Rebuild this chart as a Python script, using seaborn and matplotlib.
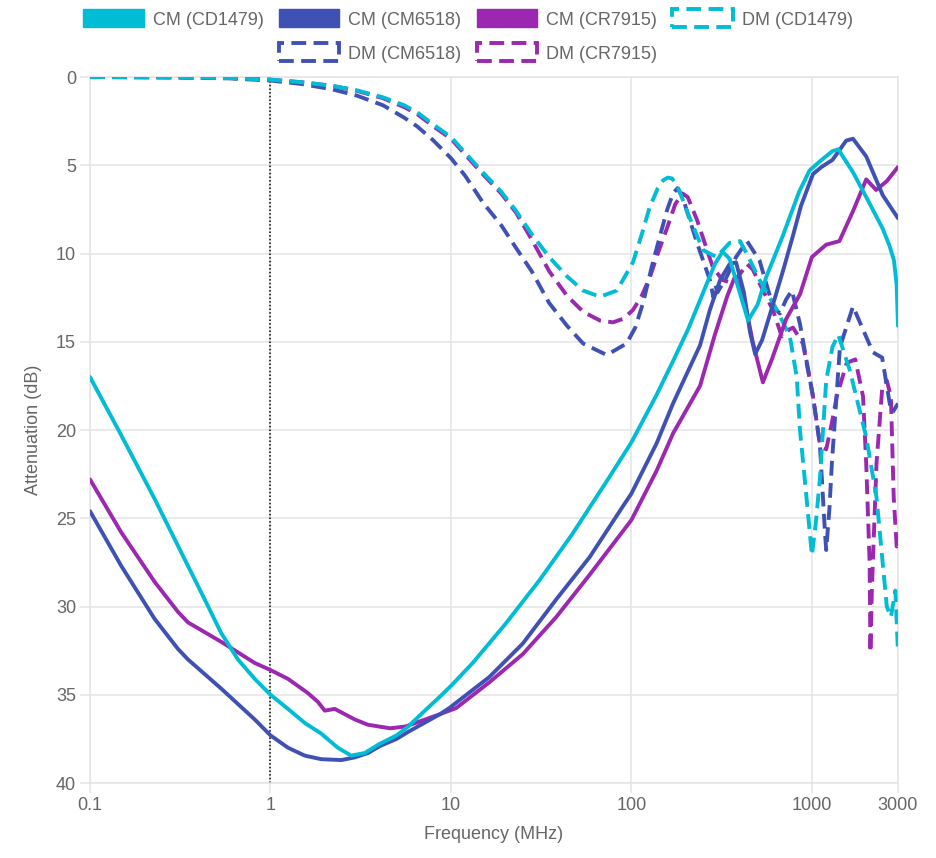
import matplotlib
matplotlib.use('Agg')
import matplotlib.pyplot as plt
from matplotlib.patches import Patch
from matplotlib.ticker import NullLocator
import seaborn as sns
import pandas as pd

# Data (frequency in MHz, attenuation in dB)
cm_cd1479_freq = [0.1, 0.149, 0.228, 0.349, 0.432, 0.533, 0.66, 0.818, 1.0, 1.25, 1.55, 1.91, 2.36, 2.8, 3.33,
                  4.0, 5.0, 5.8, 7.0, 8.7, 10, 13.2, 20, 31, 47, 73, 100, 138, 170, 206, 250, 290, 320, 350, 390,
                  443, 500, 560, 690, 850, 970, 1100, 1300, 1400, 1690, 2000, 2470, 2700, 2850, 2950, 3000]
cm_cd1479_db = [17.0, 20.3, 23.9, 27.7, 29.6, 31.5, 33.0, 34.1, 35.0, 35.8, 36.6, 37.2, 38.0, 38.45, 38.3,
                37.8, 37.3, 36.8, 36.0, 35.1, 34.5, 33.2, 31.0, 28.5, 25.9, 22.9, 20.7, 18.0, 16.1, 14.3, 12.2, 10.6, 9.9, 10.3, 11.9,
                13.8, 12.9, 11.3, 9.0, 6.5, 5.3, 4.8, 4.2, 4.1, 5.4, 6.8, 8.6, 9.6, 10.4, 11.8, 14.1]

cm_cm6518_freq = [0.1, 0.149, 0.228, 0.307, 0.349, 0.533, 0.818, 1.0, 1.25, 1.55, 1.91, 2.47, 2.93, 3.47, 4.05,
                  5.0, 5.8, 8.7, 9.8, 16.3, 25, 38.3, 58.7, 90, 100, 138, 170, 203, 240, 272, 310, 350, 380, 420,
                  455, 485, 530, 608, 700, 785, 870, 1014, 1130, 1300, 1550, 1690, 2000, 2470, 3000]
cm_cm6518_db = [24.6, 27.7, 30.7, 32.4, 33.0, 34.65, 36.4, 37.3, 38.0, 38.45, 38.65, 38.7, 38.55, 38.3, 37.9,
                37.5, 37.1, 36.1, 35.75, 34.0, 32.1, 29.6, 27.2, 24.3, 23.6, 20.75, 18.5, 16.8, 15.2, 13.2, 11.5, 10.6, 10.5, 12.2,
                14.5, 15.7, 14.9, 12.9, 10.8, 9.0, 7.3, 5.5, 5.1, 4.7, 3.6, 3.5, 4.5, 6.7, 8.0]

cm_cr7915_freq = [0.1, 0.149, 0.228, 0.307, 0.349, 0.533, 0.818, 1.0, 1.25, 1.61, 1.83, 2.0, 2.27, 2.93, 3.47,
                  4.6, 5.6, 8.7, 10.7, 16.3, 25, 38.3, 58.7, 100, 138, 170, 240, 290, 340, 375, 420, 470, 535,
                  600, 721, 860, 1000, 1200, 1420, 1690, 2000, 2270, 2600, 3000]
cm_cr7915_db = [22.8, 25.8, 28.6, 30.3, 30.9, 32.0, 33.2, 33.6, 34.1, 34.9, 35.4, 35.9, 35.8, 36.4, 36.7,
                36.9, 36.8, 36.1, 35.75, 34.3, 32.7, 30.6, 28.2, 25.1, 22.3, 20.2, 17.5, 14.6, 12.4, 11.3, 12.5, 15.0, 17.3,
                16.0, 13.7, 12.3, 10.2, 9.5, 9.3, 7.6, 5.8, 6.4, 5.9, 5.1]

dm_cd1479_freq = [0.1, 0.3, 0.6, 1.0, 1.5, 2.2, 3.0, 4.2, 5.5, 6.5, 8, 10, 12, 15, 19, 23, 28, 35, 44, 54, 67, 83,
                  102, 115, 126, 140, 150, 159, 168, 180, 190, 203, 249, 296, 350, 400, 445, 513, 640, 755, 824,
                  859, 933, 1000, 1050, 1107, 1200, 1300, 1400, 1620, 2000, 2280, 2600, 2740, 2900, 3000]
dm_cd1479_db = [0.0, 0.02, 0.06, 0.15, 0.3, 0.5, 0.75, 1.15, 1.6, 2.0, 2.7, 3.4, 4.3, 5.4, 6.5, 7.6, 8.9, 10.2, 11.3, 12.1, 12.45, 12.1,
                10.5, 8.8, 7.4, 6.3, 5.85, 5.7, 5.75, 6.2, 6.8, 7.6, 9.8, 10.2, 9.4, 9.3, 10.2, 11.5, 13.2, 14.7, 17.0,
                20.0, 23.8, 27.1, 25.3, 22.8, 17.2, 15.3, 14.6, 16.6, 20.4, 23.8, 30.0, 30.6, 29.1, 32.6]

dm_cm6518_freq = [0.1, 0.3, 0.6, 1.0, 1.5, 2.2, 3.0, 4.2, 5.5, 6.5, 8, 10, 12, 15, 19, 23, 28, 35, 44, 54, 73, 94,
                  105, 116, 130, 144, 158, 170, 180, 192, 231, 272, 285, 292, 300, 338, 380, 437, 513, 608, 665,
                  720, 775, 859, 1014, 1107, 1180, 1200, 1250, 1290, 1430, 1690, 1900, 2180, 2450, 2700, 2800, 3000]
dm_cm6518_db = [0.0, 0.03, 0.08, 0.2, 0.4, 0.7, 1.05, 1.6, 2.3, 2.8, 3.6, 4.6, 5.6, 7.1, 8.4, 9.7, 11.0, 12.8, 14.1, 15.1, 15.75, 15.1,
                14.2, 12.8, 10.7, 9.0, 7.5, 6.6, 6.3, 6.8, 9.4, 11.5, 12.5, 11.8, 12.2, 11.3, 10.2, 9.3, 10.4, 13.0, 13.4,
                12.6, 12.1, 14.0, 18.1, 20.8, 25.7, 26.8, 24.5, 21.9, 15.3, 13.0, 14.2, 15.6, 15.9, 18.5, 19.0, 18.5]

dm_cr7915_freq = [0.1, 0.3, 0.6, 1.0, 1.5, 2.2, 3.0, 4.2, 5.5, 6.5, 8, 10, 12, 15, 19, 23, 28, 35, 44, 54, 67, 79,
                  90, 102, 114, 126, 140, 157, 175, 192, 205, 231, 283, 320, 366, 410, 437, 470, 513, 608, 681,
                  750, 786, 892, 1014, 1107, 1200, 1290, 1373, 1560, 1740, 1920, 2000, 2090, 2110, 2150, 2280,
                  2450, 2600, 2740, 2840, 2950, 3000]
dm_cr7915_db = [0.0, 0.02, 0.06, 0.15, 0.3, 0.5, 0.78, 1.2, 1.7, 2.1, 2.8, 3.5, 4.4, 5.5, 6.6, 7.7, 9.2, 11.0, 12.4, 13.3, 13.8, 13.9,
                13.7, 13.2, 12.4, 11.4, 10.0, 8.6, 7.2, 6.6, 6.8, 8.1, 10.8, 11.5, 11.7, 11.0, 10.6, 10.9, 11.7, 13.2, 14.7,
                14.3, 14.2, 15.1, 18.1, 20.8, 21.1, 19.6, 18.1, 16.2, 16.0, 18.1, 21.9, 27.6, 32.6, 29.0, 21.9,
                17.7, 17.2, 18.1, 23.8, 26.6, 26.5]

series_names = ['CM (CD1479)', 'CM (CM6518)', 'CM (CR7915)', 'DM (CD1479)', 'DM (CM6518)', 'DM (CR7915)']
series_data = [(cm_cd1479_freq, cm_cd1479_db), (cm_cm6518_freq, cm_cm6518_db), (cm_cr7915_freq, cm_cr7915_db),
               (dm_cd1479_freq, dm_cd1479_db), (dm_cm6518_freq, dm_cm6518_db), (dm_cr7915_freq, dm_cr7915_db)]

x_ticks = [0.1, 1, 10, 100, 1000, 3000]
x_tick_labels = ['0.1', '1', '10', '100', '1000', '3000']
y_ticks = [0, 5, 10, 15, 20, 25, 30, 35, 40]

colors = {'CD1479': '#00BCD4', 'CM6518': '#3F51B5', 'CR7915': '#9C27B0'}
palette = {n: colors[n[4:-1]] for n in series_names}
dash_pat = (3.8, 1.9)

sns.set_theme(style='white')
plt.rcParams['font.family'] = ['Liberation Sans', 'DejaVu Sans']
text_col = '#666666'
grid_col = '#e4e4e4'

fig, ax = plt.subplots(figsize=(9.36, 8.58), dpi=100)
fig.subplots_adjust(left=90/936, right=898/936, top=1-77/858, bottom=1-783/858)

# first series ends up on top, like the original chart
for i, (name, (fr, db)) in enumerate(zip(series_names, series_data)):
    d = pd.DataFrame({'freq': fr, 'atten': db})
    ls = '-' if name.startswith('CM') else (0, dash_pat)
    sns.lineplot(data=d, x='freq', y='atten', color=palette[name], linestyle=ls, linewidth=2.8,
                 estimator=None, sort=False, ax=ax, zorder=10 - i)

ax.axvline(1, color='black', linestyle=(0, (1, 1.4)), linewidth=1.1, zorder=2)

ax.set_xscale('log')
ax.set_xlim(0.1, 3000)
ax.set_ylim(40, 0)
ax.set_xticks(x_ticks)
ax.set_xticklabels(x_tick_labels)
ax.xaxis.set_minor_locator(NullLocator())
ax.set_yticks(y_ticks)
ax.set_yticklabels([str(v) for v in y_ticks])
ax.grid(True, color=grid_col, linewidth=1.1)
for s in ax.spines.values():
    s.set_color(grid_col)
    s.set_linewidth(1.1)
ax.tick_params(axis='both', colors=grid_col, labelcolor=text_col, labelsize=13, length=7, width=1.1, pad=3,
               left=True, bottom=True)
ax.set_xlabel('Frequency (MHz)', fontsize=13, color=text_col, labelpad=9)
ax.set_ylabel('Attenuation (dB)', fontsize=13, color=text_col, labelpad=10)

def handle(name):
    c = palette[name]
    if name.startswith('CM'):
        return Patch(facecolor=c, edgecolor=c, linewidth=1)
    return Patch(facecolor='white', edgecolor=c, linewidth=2.8, linestyle=(0, dash_pat))

leg_kw = dict(frameon=False, fontsize=13, handlelength=3.35, handleheight=1.15, handletextpad=0.5,
              columnspacing=0.85, labelcolor=text_col, loc='center', borderaxespad=0)
fig.legend([handle(n) for n in series_names[:4]], series_names[:4], ncol=4,
           bbox_to_anchor=(0.5, 1-19/858), **leg_kw)
fig.legend([handle(n) for n in series_names[4:]], series_names[4:], ncol=2,
           bbox_to_anchor=(0.5, 1-53/858), **leg_kw)

fig.savefig('out.png', dpi=100)
